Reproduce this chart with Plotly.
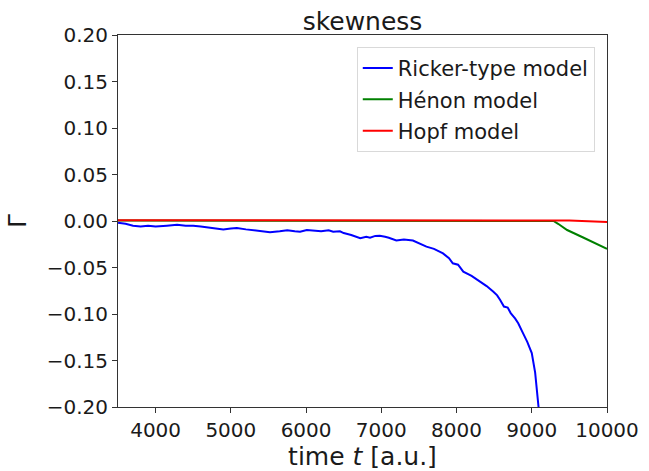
import plotly.graph_objects as go

# Ricker-type model (blue)
ricker_t = [3500, 3600, 3700, 3800, 3900, 4000, 4150, 4285, 4400, 4500, 4600, 4700, 4800,
            4900, 5000, 5080, 5200, 5300, 5420, 5520, 5650, 5750, 5850, 5920, 6010, 6100,
            6200, 6300, 6360, 6450, 6500, 6600, 6720, 6800, 6850, 6920, 6980, 7050, 7100,
            7200, 7300, 7420, 7500, 7600, 7700, 7820, 7900, 7950, 8020, 8090, 8200, 8310,
            8400, 8490, 8540, 8580, 8630, 8680, 8720, 8780, 8820, 8880, 8940, 9000, 9045,
            9090, 9120]
ricker_v = [-0.002, -0.003, -0.005, -0.006, -0.005, -0.006, -0.005, -0.004, -0.005, -0.005,
            -0.006, -0.007, -0.008, -0.009, -0.008, -0.0075, -0.009, -0.010, -0.011, -0.012,
            -0.011, -0.010, -0.011, -0.0115, -0.0097, -0.010, -0.011, -0.010, -0.0115, -0.011,
            -0.013, -0.015, -0.0186, -0.017, -0.018, -0.016, -0.0158, -0.017, -0.018, -0.021,
            -0.020, -0.021, -0.024, -0.0276, -0.030, -0.0348, -0.040, -0.0455, -0.047, -0.0545,
            -0.059, -0.065, -0.070, -0.076, -0.080, -0.085, -0.092, -0.093, -0.099, -0.105,
            -0.110, -0.120, -0.130, -0.142, -0.163, -0.200, -0.25]

# Hénon model (green)
henon_t = [3500, 9000, 9290, 9350, 9470, 9690, 10000]
henon_v = [0.0005, 0.0005, 0.0, -0.003, -0.0097, -0.018, -0.030]

# Hopf model (red)
hopf_t = [3500, 9000, 9500, 10000]
hopf_v = [0.0008, 0.0008, 0.0005, -0.001]

x_ticks = [4000, 5000, 6000, 7000, 8000, 9000, 10000]
y_ticks = [-0.2, -0.15, -0.1, -0.05, 0, 0.05, 0.1, 0.15, 0.2]
y_ticktext = ["\u22120.20", "\u22120.15", "\u22120.10", "\u22120.05", "0.00",
              "0.05", "0.10", "0.15", "0.20"]

fig = go.Figure()
fig.add_trace(go.Scatter(x=ricker_t, y=ricker_v, mode="lines", name="Ricker-type model",
                         line=dict(color="#0000ff", width=2), legendgroup="a"))
fig.add_trace(go.Scatter(x=henon_t, y=henon_v, mode="lines", name="Hénon model",
                         line=dict(color="#008000", width=2), legendgroup="b"))
fig.add_trace(go.Scatter(x=hopf_t, y=hopf_v, mode="lines", name="Hopf model",
                         line=dict(color="#ff0000", width=2), legendgroup="c"))

font = "DejaVu Sans"
fig.update_layout(
    width=649, height=471,
    margin=dict(l=118, r=42, t=35, b=64, autoexpand=False),
    plot_bgcolor="white", paper_bgcolor="white",
    font=dict(family=font, size=20, color="black"),
    title=dict(text="skewness", x=0.5, xref="paper", xanchor="center",
               y=1, yref="paper", yanchor="bottom", pad=dict(b=5),
               font=dict(family=font, size=25, color="#1a1a1a")),
    showlegend=True,
    legend=dict(x=0.975, y=0.968, xanchor="right", yanchor="top",
                bordercolor="#d9d9d9", borderwidth=1, bgcolor="rgba(255,255,255,0.8)",
                font=dict(family=font, size=21, color="#1a1a1a"),
                tracegroupgap=1, traceorder="grouped"),
    xaxis=dict(range=[3500, 10000], tickmode="array", automargin=False,
               tickvals=x_ticks, ticktext=[str(v) for v in x_ticks],
               ticks="outside", ticklen=5, tickcolor="#333", showgrid=False, zeroline=False,
               showline=True, linecolor="#333", linewidth=1, mirror=True,
               tickfont=dict(family=font, size=20, color="#1a1a1a"),
               title=dict(text="time <i>t</i> [a.u.]", font=dict(family=font, size=25, color="#1a1a1a"),
                          standoff=4)),
    yaxis=dict(range=[-0.2, 0.2], tickmode="array", automargin=False,
               tickvals=y_ticks, ticktext=y_ticktext,
               ticks="outside", ticklen=5, tickcolor="#333", showgrid=False, zeroline=False,
               showline=True, linecolor="#333", linewidth=1, mirror=True,
               tickfont=dict(family=font, size=20, color="#1a1a1a"),
               title=dict(text="Γ", font=dict(family=font, size=25, color="#1a1a1a"), standoff=12)),
)

fig.write_html("out.html")
